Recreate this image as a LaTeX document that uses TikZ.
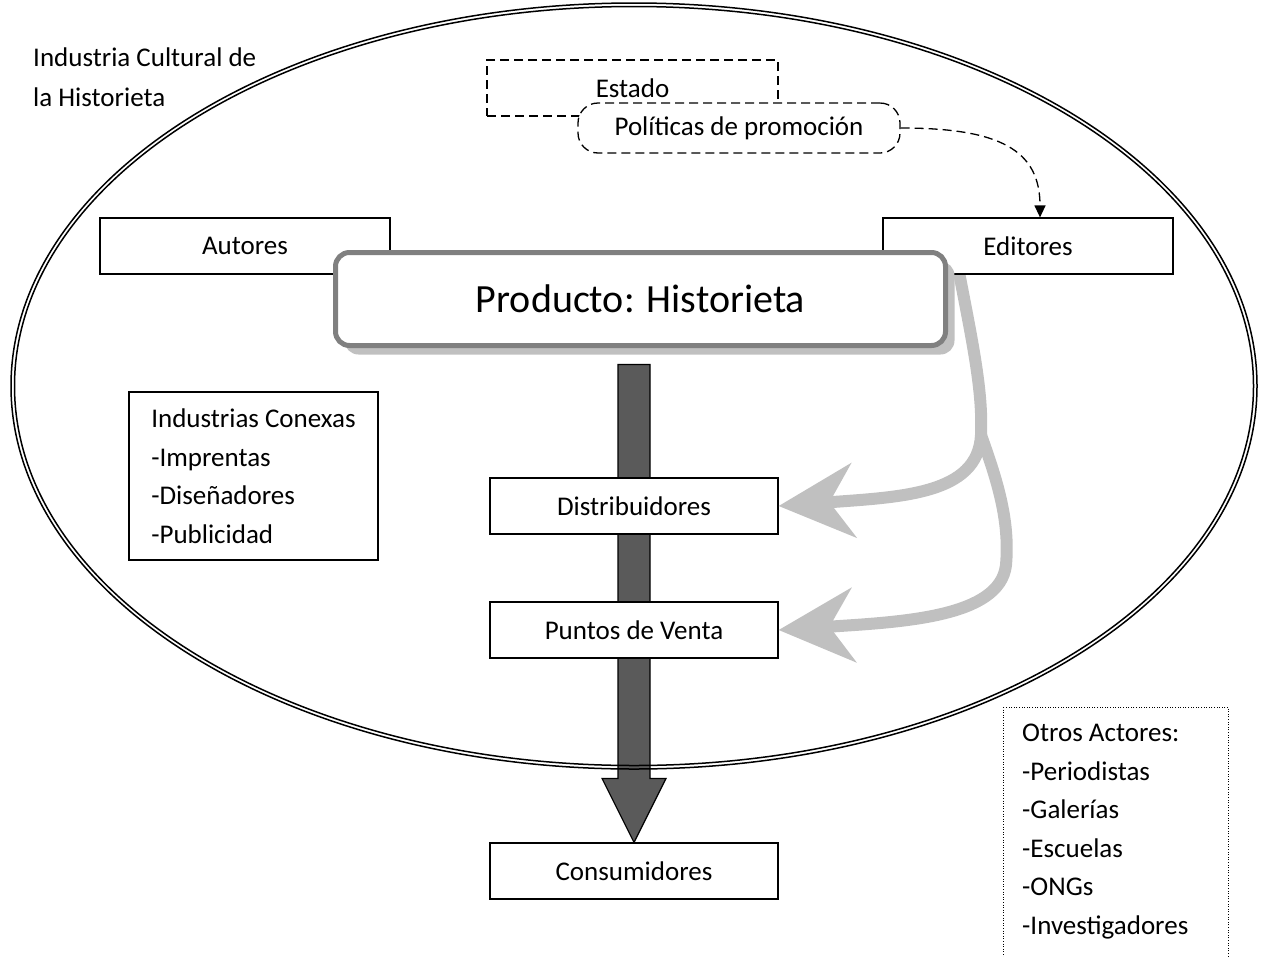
\documentclass[tikz,border=0pt]{standalone}
\usepackage{fontspec}
\setmainfont{Carlito}
\usetikzlibrary{arrows.meta,calc,shadows}
\definecolor{boxgray}{HTML}{808080}
\definecolor{lightg}{HTML}{C0C0C0}
\definecolor{darkg}{HTML}{5A5A5A}
\begin{document}
\begin{tikzpicture}[x=1pt,y=-1pt,
  font=\fontsize{27}{38.5}\selectfont,
  box/.style={draw, line width=1.2pt, fill=white, minimum width=#1, minimum height=56pt, inner sep=0pt},
  dashline/.style={dash pattern=on 9pt off 5pt, line width=1.3pt},
  grayarrow/.style={draw=lightg, line width=12pt, -{Stealth[length=75pt,width=74pt,inset=24pt,fill=lightg]}},
  darkarrow/.style={fill=darkg, draw=black, line width=1.2pt, line join=miter},
  ellline/.style={line width=1.5pt}
]
\useasboundingbox (0,0) rectangle (1268,956);
\node[anchor=north west, inner sep=0pt, align=left, font=\fontsize{27}{40}\selectfont] (title) at (33,48) {Industria Cultural de\\la Historieta};
% Estado / Politicas
\node[draw, dashline, minimum width=291pt, minimum height=56pt, inner sep=0pt] (estado) at (632.5,88) {Estado};
\node[draw, dashline, fill=white, rounded corners=20pt, minimum width=322pt, minimum height=50pt, inner sep=0pt] (pol) at (739,128) {Políticas de promoción};
% lower chain
\node[box=288pt] (cons) at (634,871) {Consumidores};
\draw[darkarrow] (cons.north) -- ++(-32,-64) -- ++(16,0) -- ++(0,-414) -- ++(32,0) -- ++(0,414) -- ++(16,0) -- cycle;
\node[box=288pt] (dist) at (634,506) {Distribuidores};
\node[box=288pt] (punt) at (634,630) {Puntos de Venta};
% gray flows
\coordinate (gstart) at (957,262);
\coordinate (gsplit) at (981,435);
\draw[grayarrow] (gstart) .. controls (972,340) and (983,390) .. (gsplit) .. controls (978,495) and (900,497) .. (dist.east);
\draw[grayarrow] (gsplit) .. controls (997,480) and (1010,520) .. (1006,565) .. controls (1000,618) and (900,622) .. (punt.east);
% actors
\node[box=290pt] (aut) at (245,246) {Autores};
\node[box=290pt] (edit) at (1028,246) {Editores};
\draw[dashline, -{Triangle[length=12pt,width=11pt]}] (pol.east) .. controls (1000,128) and (1040,150) .. ($(edit.north)+(12,0)$);
% product
\node[draw=boxgray, line width=5pt, rounded corners=14pt, fill=white, minimum width=610pt, minimum height=93pt, inner sep=0pt,
  drop shadow={shadow xshift=9pt, shadow yshift=-9pt, fill=lightg, opacity=1},
  font=\fontsize{40}{48}\selectfont] (prod) at (640.5,299) {Producto: Historieta};
% side boxes
\node[draw, line width=1.2pt, align=left, inner sep=0pt, minimum width=249pt, minimum height=168pt] (conex) at (253.5,476) {Industrias Conexas\\-Imprentas\\-Diseñadores\\-Publicidad};
\coordinate (otl) at (1003,707);
\coordinate (obr) at (1228,965);
\draw[line width=0.9pt, dash pattern=on 1pt off 1.6pt] (otl) rectangle (obr);
\node[anchor=north west, inner sep=0pt, align=left] (otros) at (1022,724) {Otros Actores:\\-Periodistas\\-Galerías\\-Escuelas\\-ONGs\\-Investigadores};
% enclosing double ellipse (transparent gap)
\draw[ellline] (634,386) ellipse [x radius=623pt, y radius=383pt];
\draw[ellline] (634,386) ellipse [x radius=619.5pt, y radius=379.5pt];
\end{tikzpicture}
\end{document}
